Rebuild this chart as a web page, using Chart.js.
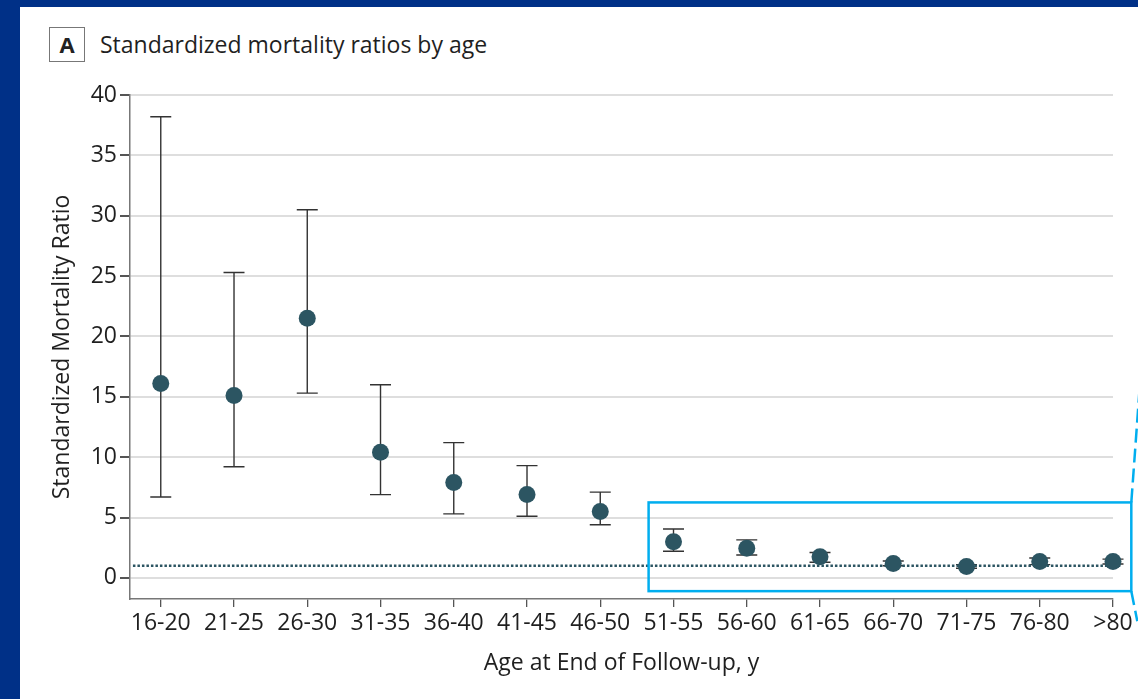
<!DOCTYPE html>
<html lang="en">
<head>
  <meta charset="UTF-8" />
  <title>Standardized mortality ratios by age</title>
  <script src="https://cdn.jsdelivr.net/npm/chart.js"></script>
  <style>
    body {
      margin: 0;
      width: 1138px;
      height: 699px;
      overflow: hidden;
      background: #003087;
      font-family: "Open Sans", sans-serif;
    }
    .panel {
      position: absolute;
      left: 20px;
      top: 7px;
      width: 1118px;
      height: 692px;
      background: #fff;
    }
    .tag {
      position: absolute;
      left: 49px;
      top: 27px;
      width: 34px;
      height: 33px;
      border: 1.5px solid #777;
      font-weight: bold;
      font-size: 22px;
      line-height: 33px;
      text-align: center;
      color: #222;
    }
    .title {
      position: absolute;
      left: 100px;
      top: 27px;
      font-size: 23px;
      line-height: 34px;
      color: #1f1f1f;
      white-space: nowrap;
    }
    canvas {
      position: absolute;
      left: 0;
      top: 0;
    }
  </style>
</head>
<body>
  <div class="panel"></div>
  <div class="tag">A</div>
  <div class="title">Standardized mortality ratios by age</div>
  <canvas id="smrChart" width="1138" height="699"></canvas>

  <script>
    // values
    const ageGroups = ['16-20', '21-25', '26-30', '31-35', '36-40', '41-45', '46-50',
                       '51-55', '56-60', '61-65', '66-70', '71-75', '76-80', '>80'];
    const smr     = [16.1, 15.1, 21.5, 10.4, 7.9, 6.9, 5.5, 3.0, 2.45, 1.75, 1.2, 0.95, 1.35, 1.35];
    const ciLower = [6.7, 9.2, 15.3, 6.9, 5.3, 5.1, 4.4, 2.2, 1.9, 1.3, 1.0, 0.8, 1.1, 1.15];
    const ciUpper = [38.2, 25.3, 30.5, 16.0, 11.2, 9.3, 7.1, 4.05, 3.15, 2.1, 1.4, 1.1, 1.65, 1.55];
    const yTicks  = [0, 5, 10, 15, 20, 25, 30, 35, 40];
    const refLine = 1;

    const ink = '#1f1f1f';
    const dotColor = '#2c5562';

    // whiskers with caps, drawn under the dots
    const errorBars = {
      id: 'errorBars',
      beforeDatasetsDraw(chart) {
        const ctx = chart.ctx;
        const xs = chart.scales.x, ys = chart.scales.y;
        ctx.save();
        ctx.strokeStyle = '#333';
        ctx.lineWidth = 1.4;
        smr.forEach((v, i) => {
          const x = xs.getPixelForValue(i);
          const lo = ys.getPixelForValue(ciLower[i]);
          const hi = ys.getPixelForValue(ciUpper[i]);
          ctx.beginPath();
          ctx.moveTo(x, lo); ctx.lineTo(x, hi);
          ctx.moveTo(x - 10.5, lo); ctx.lineTo(x + 10.5, lo);
          ctx.moveTo(x - 10.5, hi); ctx.lineTo(x + 10.5, hi);
          ctx.stroke();
        });
        ctx.restore();
      }
    };

    // cyan highlight box around the older age groups
    const highlight = {
      id: 'highlight',
      afterDatasetsDraw(chart) {
        const ctx = chart.ctx;
        const xs = chart.scales.x, ys = chart.scales.y;
        const x1 = xs.getPixelForValue(6.66), x2 = xs.getPixelForValue(13.25);
        const y1 = ys.getPixelForValue(6.25), y2 = ys.getPixelForValue(-1.1);
        ctx.save();
        ctx.strokeStyle = '#00aeef';
        ctx.lineWidth = 2.5;
        ctx.strokeRect(x1, y1, x2 - x1, y2 - y1);
        ctx.setLineDash([14, 6]);
        ctx.beginPath();
        ctx.moveTo(x2, y1); ctx.lineTo(x2 + 8, y1 - 110);
        ctx.moveTo(x2, y2); ctx.lineTo(x2 + 6, y2 + 30);
        ctx.stroke();
        ctx.restore();
      }
    };

    const tickFont = { family: 'Open Sans', size: 23 };
    const titleFont = { family: 'Open Sans', size: 23 };

    new Chart(document.getElementById('smrChart'), {
      type: 'scatter',
      data: {
        datasets: [{
          label: 'SMR',
          data: smr.map((v, i) => ({ x: i, y: v })),
          pointRadius: 8.5,
          pointHoverRadius: 8.5,
          backgroundColor: dotColor,
          borderWidth: 0,
          clip: false,
          order: 1
        }, {
          type: 'line',
          label: 'Reference',
          data: [{ x: -0.38, y: refLine }, { x: 13.1, y: refLine }],
          borderColor: dotColor,
          borderWidth: 2.5,
          borderDash: [2.5, 2],
          pointRadius: 0,
          clip: false,
          order: 2
        }]
      },
      options: {
        responsive: false,
        animation: false,
        devicePixelRatio: 1,
        layout: { padding: { left: 0, top: 95, right: 25, bottom: 0 } },
        plugins: {
          legend: { display: false },
          tooltip: { enabled: false }
        },
        scales: {
          x: {
            type: 'linear',
            min: -0.42,
            max: 13,
            afterBuildTicks: s => { s.ticks = ageGroups.map((_, i) => ({ value: i })); },
            afterFit: s => { s.height = 100; },
            ticks: {
              autoSkip: false,
              maxRotation: 0,
              padding: 3,
              color: ink,
              font: tickFont,
              callback: v => ageGroups[v]
            },
            grid: { drawOnChartArea: false, tickLength: 8, tickColor: '#555', lineWidth: 1.3 },
            border: { color: '#777', width: 1.5 },
            title: {
              display: true,
              text: 'Age at End of Follow-up, y',
              color: ink,
              font: titleFont,
              padding: { top: 0, bottom: 22 }
            }
          },
          y: {
            min: -1.75,
            max: 40,
            afterBuildTicks: s => { s.ticks = yTicks.map(v => ({ value: v })); },
            afterFit: s => { s.width = 130; },
            ticks: { padding: 3, color: ink, font: tickFont },
            grid: { color: '#dedede', lineWidth: 2, tickLength: 10, tickColor: '#555' },
            border: { color: '#777', width: 1.5 },
            title: {
              display: true,
              text: 'Standardized Mortality Ratio',
              color: ink,
              font: titleFont,
              padding: { top: 49, bottom: 0 }
            }
          }
        }
      },
      plugins: [errorBars, highlight]
    });
  </script>
</body>
</html>
